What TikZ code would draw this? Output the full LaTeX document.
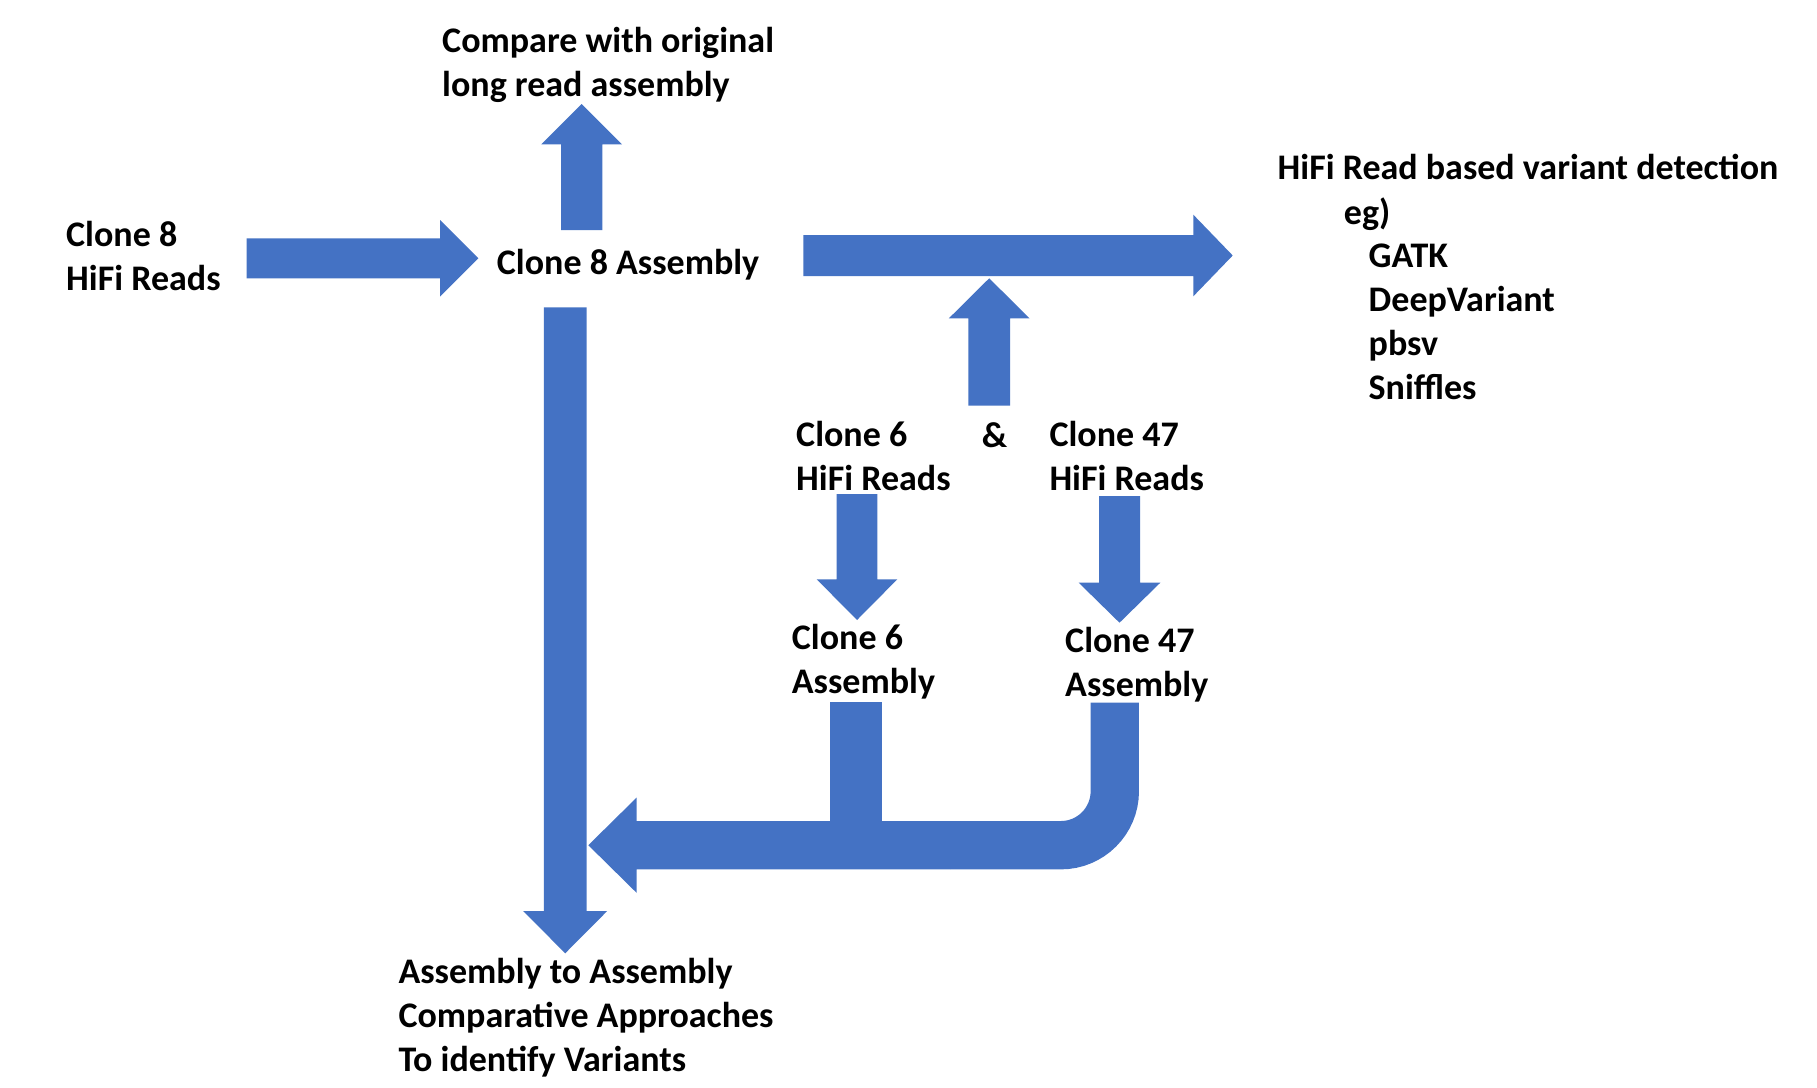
\documentclass[tikz,border=0pt]{standalone}
\usepackage{fontspec}
\setmainfont{Carlito}
\usetikzlibrary{calc}
\definecolor{arrowblue}{RGB}{68,114,196}
\tikzset{
  lbl/.style={font=\bfseries\fontsize{36}{44}\selectfont, inner sep=0pt, anchor=base west, align=left, text=black},
  barrow/.style={fill=arrowblue, draw=none},
  bentshaft/.style={draw=arrowblue, line width=48.3pt, rounded corners=54pt},
}
% #1 start, #2 tip, #3 half shaft width, #4 half head width, #5 head length (all in pt)
\newcommand\blockarr[5]{%
  \coordinate (bah) at ($(#2)!#5pt!(#1)$);
  \fill[barrow] ($(#1)!#3pt!90:(#2)$) -- ($(bah)!#3pt!-90:(#1)$) -- ($(bah)!#4pt!-90:(#1)$) -- (#2)
    -- ($(bah)!#4pt!90:(#1)$) -- ($(bah)!#3pt!90:(#1)$) -- ($(#1)!#3pt!-90:(#2)$) -- cycle;
}
\begin{document}
\begin{tikzpicture}[x=1pt,y=-1pt]
\useasboundingbox (0,0) rectangle (1817,1087);
\fill[white] (0,0) rectangle (1817,1087);

% text nodes (base anchor = baseline of the last line)
\node[lbl] (c8reads) at (66,290) {Clone 8\\HiFi Reads};
\node[lbl] (c8asm) at (496.7,274) {Clone 8 Assembly};
\node[lbl] (compare) at (442,96.5) {Compare with original\\long read assembly};
\node[lbl] (hifivar) at (1277.5,179.5) {HiFi Read based variant detection};
\node[lbl] (eg) at (1343.7,224) {eg)};
\node[lbl] (tools) at (1368.5,399.5) {GATK\\DeepVariant\\pbsv\\Sniffles};
\node[lbl] (c6reads) at (796,490.5) {Clone 6\\HiFi Reads};
\node[lbl] (amp) at (981.7,447) {\&};
\node[lbl] (c47reads) at (1049.3,490.5) {Clone 47\\HiFi Reads};
\node[lbl] (c6asm) at (791.7,693) {Clone 6\\Assembly};
\node[lbl] (c47asm) at (1065,696.5) {Clone 47\\Assembly};
\node[lbl] (a2a) at (398.3,1071) {Assembly to Assembly\\Comparative Approaches\\To identify Variants};

% arrow end points
\coordinate (a1s) at (246.7,258.3);  \coordinate (a1e) at (478.3,258.3);
\coordinate (u1s) at (581.7,230);    \coordinate (u1e) at (581.7,104);
\coordinate (vs)  at (565.2,307.3);  \coordinate (ve)  at (565.2,953.3);
\coordinate (bs)  at (803.3,255.5);  \coordinate (be)  at (1232.7,255.5);
\coordinate (u2s) at (989.2,405.7);  \coordinate (u2e) at (989.2,278.3);
\coordinate (d6s) at (857,494);      \coordinate (d6e) at (857,620);
\coordinate (d47s) at (1119.5,496);  \coordinate (d47e) at (1119.5,622.7);
\coordinate (c47s) at (1114.8,702.7); \coordinate (bend) at (1114.8,845.2);
\coordinate (hmid) at (950,845.2);   \coordinate (he) at (588.3,845.2);

% arrows
\blockarr{a1s}{a1e}{20}{38.3}{38.3}
\blockarr{u1s}{u1e}{20.7}{40.3}{40.3}
\blockarr{vs}{ve}{21.3}{42}{42.3}
\blockarr{bs}{be}{20.5}{40.8}{39.4}
\blockarr{u2s}{u2e}{20.8}{40.3}{40}
\blockarr{d6s}{d6e}{20.3}{40.3}{40.7}
\blockarr{d47s}{d47e}{20.5}{40.8}{40}

% bottom joined arrow
\draw[bentshaft] (c47s) -- (bend) -- (hmid);
\fill[barrow] (830,701.7) rectangle (882.3,840);
\blockarr{hmid}{he}{24.15}{47.7}{48.4}
\end{tikzpicture}
\end{document}
